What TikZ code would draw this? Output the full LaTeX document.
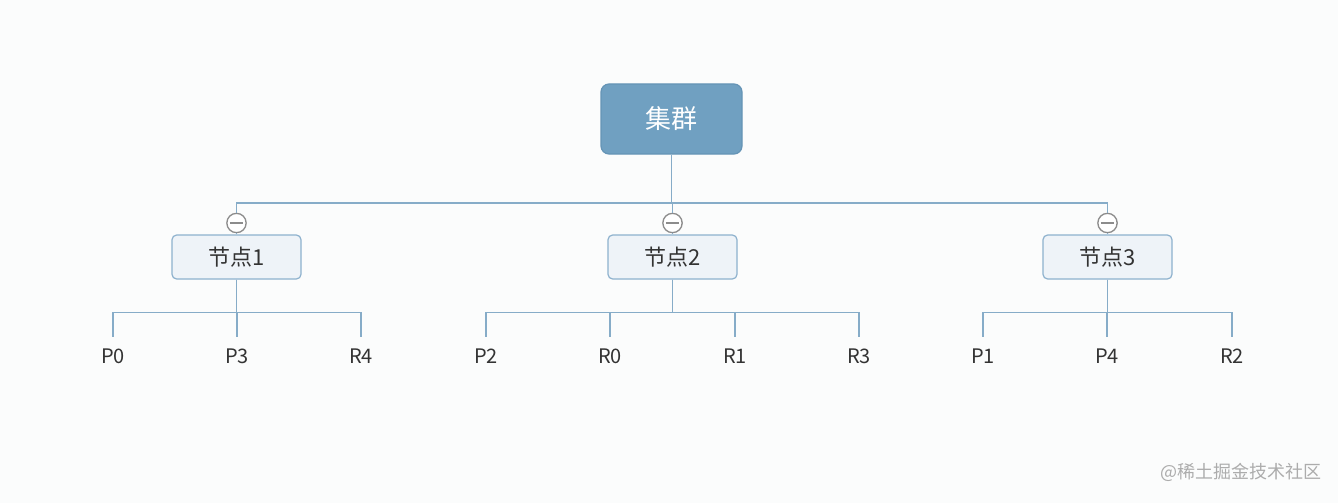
\documentclass[tikz,border=0pt]{standalone}
\usepackage{fontspec}
\setmainfont{Noto Sans CJK SC}
\usetikzlibrary{positioning}
\definecolor{bgFill}{HTML}{FBFCFC}
\definecolor{rootFill}{HTML}{70A0C1}
\definecolor{rootStroke}{HTML}{6594B6}
\definecolor{nodeFill}{HTML}{EEF3F8}
\definecolor{nodeStroke}{HTML}{8DB1CD}
\definecolor{linkStroke}{HTML}{86ACC8}
\definecolor{foldStroke}{HTML}{8C8C8C}
\definecolor{inkTxt}{HTML}{333333}
\definecolor{markTxt}{HTML}{ACACAC}
\tikzset{
  base/.style={
    rectangle, align=center, inner sep=0pt, draw, line width=0.9pt
  },
  root nd/.style={
    base, rounded corners=6pt, minimum width=105.75pt, minimum height=52.5pt,
    fill=rootFill, draw=rootStroke, text=white,
    font=\fontsize{19.5}{23}\selectfont
  },
  host nd/.style={
    base, rounded corners=3.5pt, minimum width=96.75pt, minimum height=33pt,
    fill=nodeFill, draw=nodeStroke, text=inkTxt,
    font=\fontsize{16.5}{19}\selectfont
  },
  fold/.style={
    circle, minimum size=14.5pt, inner sep=0pt, draw=foldStroke,
    line width=1pt, fill=white,
    path picture={\draw[foldStroke, line width=1pt]
      ([xshift=-5pt]path picture bounding box.center) --
      ([xshift=5pt]path picture bounding box.center);}
  },
  leaf/.style={
    anchor=north, inner xsep=0pt, inner ysep=9pt, text=inkTxt,
    font=\fontsize{15}{18}\selectfont
  },
  link/.style={line width=1.2pt, draw=linkStroke}
}
\begin{document}
\begin{tikzpicture}[x=0.75pt, y=-0.75pt]
  \fill[bgFill] (0,0) rectangle (1338,503);

  \node[root nd] (cluster) at (671.5,119) {集群};
  \coordinate (busTop) at (671.5,203);

  % fold marks and host nodes
  \foreach \nm/\x/\txt in {1/236.5/节点1, 2/672.5/节点2, 3/1107.5/节点3}{
    \node[fold] (fold\nm) at (\x,223) {};
    \node[host nd] (nd\nm) at (\x,257) {\txt};
    \draw[link] (fold\nm.south) -- (nd\nm.north);
  }

  \draw[link] (cluster.south) -- (busTop);
  \draw[link] (fold1.north) |- (busTop) -| (fold3.north);
  \draw[link] (busTop -| fold2.north) -- (fold2.north);

  % leaves
  \foreach \nm/\x/\up in {P0/113/nd1, P3/237/nd1, R4/361/nd1,
                          P2/486/nd2, R0/610/nd2, R1/735/nd2, R3/859/nd2,
                          P1/983/nd3, P4/1107/nd3, R2/1232/nd3}{
    \node[leaf] (leaf\nm) at (\x,337) {\nm};
    \draw[link] (\up.south) -- ++(0,33) -| (leaf\nm.north);
  }

  \node[text=markTxt, font=\fontsize{13.5}{16}\selectfont] (mark) at (1241,472)
    {@稀土掘金技术社区};
\end{tikzpicture}
\end{document}
